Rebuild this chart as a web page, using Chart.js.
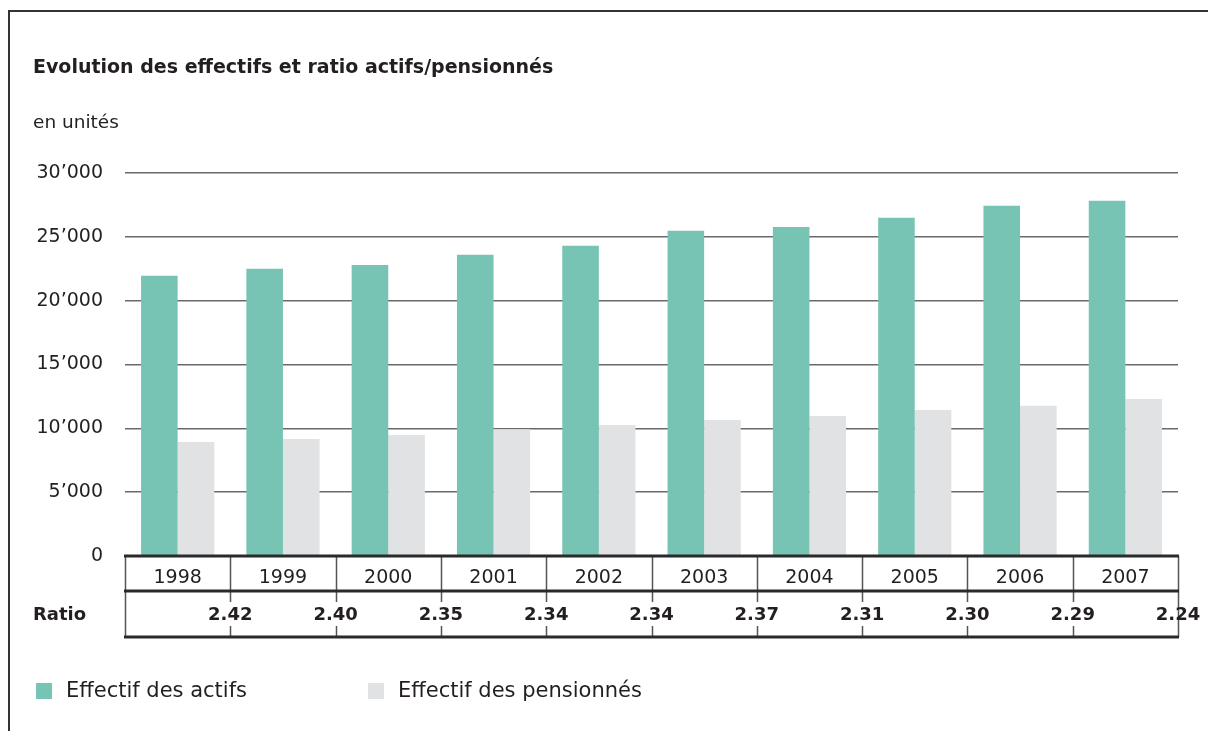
<!DOCTYPE html>
<html>
<head>
<meta charset="utf-8">
<script src="https://cdn.jsdelivr.net/npm/chart.js@4.4.1/dist/chart.umd.min.js"></script>
<style>
  html, body { margin: 0; padding: 0; background: #ffffff; }
  #wrap { width: 1208px; height: 731px; position: relative; }
</style>
</head>
<body>
<div id="wrap"><canvas id="c" width="1208" height="731"></canvas></div>
<script>
const years = ['1998', '1999', '2000', '2001', '2002', '2003', '2004', '2005', '2006', '2007'];
const actifs = [21950, 22500, 22800, 23600, 24300, 25470, 25780, 26490, 27430, 27820];
const pensionnes = [8930, 9170, 9480, 9930, 10270, 10660, 10970, 11440, 11760, 12300];
const ratios = ['2.42', '2.40', '2.35', '2.34', '2.34', '2.37', '2.31', '2.30', '2.29', '2.24'];
const yTickLabels = ['0', '5’000', '10’000', '15’000', '20’000', '25’000', '30’000'];
const seriesNames = ['Effectif des actifs', 'Effectif des pensionnés'];
const titleText = 'Evolution des effectifs et ratio actifs/pensionnés';
const unitText = 'en unités';
const ratioLabel = 'Ratio';

const TEAL = '#78c4b4';
const GREY = '#e1e2e4';
const INK = '#231f20';
const FONT = '"DejaVu Sans", sans-serif';

const decorPlugin = {
  id: 'decor',
  afterDraw(chart) {
    const ctx = chart.ctx;
    const ca = chart.chartArea;
    const xs = chart.scales.x;
    const n = years.length;
    ctx.save();

    // outer frame (left + top)
    ctx.strokeStyle = '#333333';
    ctx.lineWidth = 2;
    ctx.beginPath();
    ctx.moveTo(9, 731);
    ctx.lineTo(9, 11);
    ctx.lineTo(1208, 11);
    ctx.stroke();

    // title and unit
    ctx.fillStyle = INK;
    ctx.textAlign = 'left';
    ctx.textBaseline = 'middle';
    ctx.font = 'bold 19px ' + FONT;
    ctx.fillText(titleText, 33, 68);
    ctx.font = '18.5px ' + FONT;
    ctx.fillText(unitText, 33, 123);

    // table geometry
    const top = ca.bottom;
    const mid = top + 35;
    const bot = top + 81;
    const bounds = [ca.left];
    for (let i = 0; i < n - 1; i++) {
      bounds.push((xs.getPixelForValue(i) + xs.getPixelForValue(i + 1)) / 2);
    }
    bounds.push(ca.right);

    // vertical lines
    ctx.strokeStyle = '#555555';
    ctx.lineWidth = 1.5;
    ctx.beginPath();
    for (let i = 0; i < bounds.length; i++) {
      const x = Math.round(bounds[i]) + 0.5;
      if (i === 0 || i === bounds.length - 1) {
        ctx.moveTo(x, top); ctx.lineTo(x, bot);
      } else {
        ctx.moveTo(x, top); ctx.lineTo(x, mid);
        ctx.moveTo(x, mid); ctx.lineTo(x, mid + 11);
        ctx.moveTo(x, bot - 11); ctx.lineTo(x, bot);
      }
    }
    ctx.stroke();

    // horizontal thick lines
    ctx.strokeStyle = '#2a2a2a';
    ctx.lineWidth = 3;
    ctx.beginPath();
    [top, mid, bot].forEach(y => {
      ctx.moveTo(ca.left - 1, y);
      ctx.lineTo(ca.right + 1, y);
    });
    ctx.stroke();

    // ratio row
    ctx.fillStyle = INK;
    ctx.font = 'bold 18px ' + FONT;
    ctx.textAlign = 'left';
    ctx.fillText(ratioLabel, 33, (mid + bot) / 2 + 1);
    ctx.textAlign = 'center';
    for (let i = 0; i < n; i++) {
      ctx.fillText(ratios[i], bounds[i + 1], (mid + bot) / 2 + 1);
    }

    // legend
    const ly = 691;
    ctx.font = '21px ' + FONT;
    ctx.textAlign = 'left';
    ctx.fillStyle = TEAL;
    ctx.fillRect(36, ly - 8, 16, 16);
    ctx.fillStyle = INK;
    ctx.fillText(seriesNames[0], 66, ly + 1);
    ctx.fillStyle = GREY;
    ctx.fillRect(368, ly - 8, 16, 16);
    ctx.fillStyle = INK;
    ctx.fillText(seriesNames[1], 398, ly + 1);

    ctx.restore();
  }
};

new Chart(document.getElementById('c'), {
  type: 'bar',
  data: {
    labels: years,
    datasets: [
      { label: seriesNames[0], data: actifs, backgroundColor: TEAL, borderWidth: 0 },
      { label: seriesNames[1], data: pensionnes, backgroundColor: GREY, borderWidth: 0 }
    ]
  },
  options: {
    responsive: false,
    devicePixelRatio: 1,
    animation: false,
    categoryPercentage: 0.695,
    barPercentage: 1.0,
    layout: { padding: { left: 0, top: 173, right: 30, bottom: 94 } },
    plugins: {
      legend: { display: false },
      title: { display: false },
      tooltip: { enabled: false }
    },
    scales: {
      x: {
        grid: { display: false, drawTicks: false },
        border: { display: false },
        ticks: {
          color: INK,
          font: { family: FONT, size: 19 },
          padding: 11,
          maxRotation: 0
        },
        afterFit(scale) { scale.height = 81; }
      },
      y: {
        min: 0,
        max: 30000,
        grid: {
          color: (c) => c.tick && c.tick.value === 0 ? 'rgba(0,0,0,0)' : '#6a6a6a',
          lineWidth: 1.5,
          drawTicks: false
        },
        border: { display: false },
        ticks: {
          stepSize: 5000,
          color: INK,
          font: { family: FONT, size: 19 },
          padding: 22,
          callback: (v, i) => yTickLabels[i]
        },
        afterFit(scale) { scale.width = 125; }
      }
    }
  },
  plugins: [decorPlugin]
});
</script>
</body>
</html>
